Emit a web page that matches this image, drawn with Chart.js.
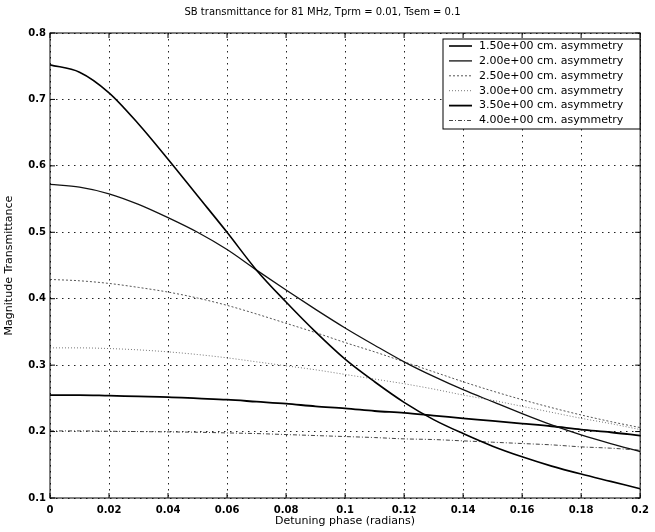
<!DOCTYPE html>
<html>
<head>
<meta charset="utf-8">
<script src="https://cdn.jsdelivr.net/npm/chart.js@4.4.1/dist/chart.umd.min.js"></script>
<style>
  html, body { margin: 0; padding: 0; background: #fff; }
  canvas { display: block; }
</style>
</head>
<body>
<canvas id="sbChart" width="655" height="532"></canvas>
<script>
// --- DATA ---
const phase = [0, 0.01, 0.02, 0.03, 0.04, 0.05, 0.06, 0.07, 0.08, 0.09, 0.1,
               0.11, 0.12, 0.13, 0.14, 0.15, 0.16, 0.17, 0.18, 0.19, 0.2];

const asym150 = [0.752, 0.741, 0.710, 0.663, 0.610, 0.555, 0.500, 0.443, 0.395, 0.350, 0.309,
                 0.275, 0.244, 0.218, 0.197, 0.178, 0.162, 0.148, 0.136, 0.125, 0.114];
const asym200 = [0.572, 0.568, 0.558, 0.542, 0.522, 0.500, 0.474, 0.443, 0.413, 0.384, 0.356,
                 0.330, 0.305, 0.283, 0.263, 0.245, 0.227, 0.210, 0.195, 0.182, 0.170];
const asym250 = [0.429, 0.427, 0.423, 0.417, 0.410, 0.401, 0.390, 0.377, 0.363, 0.349, 0.334,
                 0.320, 0.305, 0.290, 0.275, 0.261, 0.248, 0.236, 0.225, 0.215, 0.206];
const asym300 = [0.326, 0.326, 0.325, 0.323, 0.320, 0.316, 0.311, 0.305, 0.299, 0.293, 0.286,
                 0.279, 0.272, 0.264, 0.255, 0.247, 0.238, 0.229, 0.220, 0.212, 0.203];
const asym350 = [0.255, 0.255, 0.254, 0.253, 0.252, 0.250, 0.248, 0.245, 0.242, 0.238, 0.235,
                 0.231, 0.228, 0.224, 0.220, 0.216, 0.212, 0.208, 0.203, 0.199, 0.194];
const asym400 = [0.201, 0.201, 0.2005, 0.200, 0.1995, 0.199, 0.198, 0.197, 0.1955, 0.194, 0.1925,
                 0.191, 0.189, 0.188, 0.186, 0.184, 0.182, 0.180, 0.177, 0.175, 0.172];

const seriesLabels = [
    '1.50e+00 cm. asymmetry',
    '2.00e+00 cm. asymmetry',
    '2.50e+00 cm. asymmetry',
    '3.00e+00 cm. asymmetry',
    '3.50e+00 cm. asymmetry',
    '4.00e+00 cm. asymmetry'
];

const xTicks = [0, 0.02, 0.04, 0.06, 0.08, 0.1, 0.12, 0.14, 0.16, 0.18, 0.2];
const xTickLabels = ['0', '0.02', '0.04', '0.06', '0.08', '0.1', '0.12', '0.14', '0.16', '0.18', '0.2'];
const yTicks = [0.1, 0.2, 0.3, 0.4, 0.5, 0.6, 0.7, 0.8];
const yTickLabels = ['0.1', '0.2', '0.3', '0.4', '0.5', '0.6', '0.7', '0.8'];

const FONT = "'DejaVu Sans', 'Liberation Sans', Arial, sans-serif";

// --- line looks (printed matlab style) ---
const styles = [
    { color: '#000', width: 1.6, dash: [] },
    { color: '#111', width: 1.3, dash: [] },
    { color: '#555', width: 1, dash: [2, 2] },
    { color: '#777', width: 1, dash: [1, 2] },
    { color: '#000', width: 1.8, dash: [] },
    { color: '#444', width: 1, dash: [4, 2, 1, 2] }
];

const seriesData = [asym150, asym200, asym250, asym300, asym350, asym400];

function toPoints(values) {
    return phase.map((p, i) => ({ x: p, y: values[i] }));
}

// --- frame, inward ticks and boxed legend ---
const matlabFrame = {
    id: 'matlabFrame',
    afterDatasetsDraw(chart) {
        const { ctx, chartArea: a, scales: { x, y } } = chart;
        ctx.save();
        ctx.strokeStyle = '#000';
        ctx.lineWidth = 1;
        ctx.setLineDash([]);
        ctx.strokeRect(a.left, a.top, a.right - a.left, a.bottom - a.top);
        ctx.beginPath();
        xTicks.forEach(v => {
            const px = x.getPixelForValue(v);
            ctx.moveTo(px, a.bottom); ctx.lineTo(px, a.bottom - 5);
            ctx.moveTo(px, a.top); ctx.lineTo(px, a.top + 5);
        });
        yTicks.forEach(v => {
            const py = y.getPixelForValue(v);
            ctx.moveTo(a.left, py); ctx.lineTo(a.left + 5, py);
            ctx.moveTo(a.right, py); ctx.lineTo(a.right - 5, py);
        });
        ctx.stroke();
        ctx.restore();
    },
    afterDraw(chart) {
        const ctx = chart.ctx;
        const box = { left: 443, top: 39, width: 197, height: 90 };
        ctx.save();
        ctx.fillStyle = '#fff';
        ctx.fillRect(box.left, box.top, box.width, box.height);
        ctx.strokeStyle = '#000';
        ctx.lineWidth = 1;
        ctx.strokeRect(box.left, box.top, box.width, box.height);
        ctx.font = '11px ' + FONT;
        ctx.textBaseline = 'middle';
        ctx.textAlign = 'left';
        chart.data.datasets.forEach((ds, i) => {
            const cy = box.top + 7 + i * 14.9;
            ctx.beginPath();
            ctx.strokeStyle = ds.borderColor;
            ctx.lineWidth = ds.borderWidth;
            ctx.setLineDash(ds.borderDash);
            ctx.moveTo(box.left + 6, cy);
            ctx.lineTo(box.left + 29, cy);
            ctx.stroke();
            ctx.setLineDash([]);
            ctx.fillStyle = '#000';
            ctx.fillText(ds.label, box.left + 36, cy);
        });
        ctx.restore();
    }
};

const ctx = document.getElementById('sbChart').getContext('2d');

new Chart(ctx, {
    type: 'line',
    data: {
        datasets: seriesData.map((vals, i) => ({
            label: seriesLabels[i],
            data: toPoints(vals),
            borderColor: styles[i].color,
            borderWidth: styles[i].width,
            borderDash: styles[i].dash,
            pointRadius: 0,
            fill: false,
            cubicInterpolationMode: 'monotone'
        }))
    },
    options: {
        responsive: false,
        animation: false,
        layout: { padding: { left: 0, right: 10, top: 0, bottom: 0 } },
        plugins: {
            legend: { display: false },
            tooltip: { enabled: false },
            title: {
                display: true,
                text: 'SB transmittance for 81 MHz, Tprm = 0.01, Tsem = 0.1',
                color: '#000',
                font: { family: FONT, size: 10, weight: 'normal' },
                padding: { top: 6, bottom: 15 }
            }
        },
        scales: {
            x: {
                type: 'linear',
                min: 0,
                max: 0.2,
                afterBuildTicks: s => { s.ticks = xTicks.map(v => ({ value: v })); },
                afterFit: s => { s.height = 34; },
                ticks: {
                    color: '#000',
                    padding: 6,
                    maxRotation: 0,
                    autoSkip: false,
                    font: { family: FONT, size: 10, weight: 'bold' },
                    callback: (v, i) => xTickLabels[i]
                },
                grid: { color: '#222', lineWidth: 1, drawTicks: false },
                border: { display: false, dash: [1.5, 4.5] },
                title: {
                    display: true,
                    text: 'Detuning phase (radians)',
                    color: '#000',
                    font: { family: FONT, size: 11 },
                    padding: { top: 0, bottom: 4 }
                }
            },
            y: {
                min: 0.1,
                max: 0.8,
                afterBuildTicks: s => { s.ticks = yTicks.map(v => ({ value: v })); },
                afterFit: s => { s.width = 50; },
                ticks: {
                    color: '#000',
                    padding: 4,
                    autoSkip: false,
                    font: { family: FONT, size: 10, weight: 'bold' },
                    callback: (v, i) => yTickLabels[i]
                },
                grid: { color: '#222', lineWidth: 1, drawTicks: false },
                border: { display: false, dash: [1.5, 4.5] },
                title: {
                    display: true,
                    text: 'Magnitude Transmittance',
                    color: '#000',
                    font: { family: FONT, size: 11 },
                    padding: { top: 3, bottom: 0 }
                }
            }
        }
    },
    plugins: [matlabFrame]
});
</script>
</body>
</html>
